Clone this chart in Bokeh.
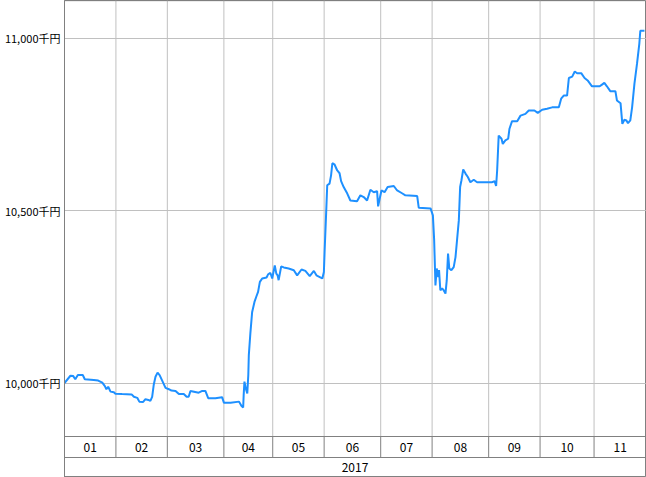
from bokeh.plotting import figure
from bokeh.models import Range1d, FixedTicker, BoxAnnotation
from bokeh.embed import file_html
from bokeh.resources import INLINE
from bokeh.core.properties import value

# ---------------- data ----------------
YEAR_LABEL = "2017"
MONTH_LABELS = ["01", "02", "03", "04", "05", "06", "07", "08", "09", "10", "11"]
MONTH_TRADING_DAYS = [20, 20, 22, 19, 20, 22, 20, 22, 20, 21, 20]
Y_TICKS = [10000, 10500, 11000]

# trading-day position (from start of the year) and value in thousand yen
DAY = [0.0, 2.3, 3.4, 4.2, 5.2, 7.1, 7.9, 11.4, 13.1, 14.7, 15.7, 16.3, 17.0, 17.9,
       19.2, 19.8, 22.4, 26.1, 27.0, 28.3, 29.1, 30.6, 31.5, 32.6, 33.4, 34.1, 34.7,
       35.4, 36.2, 37.0, 38.0, 39.3, 40.6, 41.6, 43.2, 44.5, 46.4, 47.5, 48.3, 49.0,
       52.2, 53.6, 54.8, 55.9, 58.7, 61.3, 62.0, 64.6, 67.9, 68.8, 69.5, 69.7, 70.0,
       70.5, 71.1, 71.5, 71.7, 72.3, 73.0, 73.9, 74.6, 75.3, 76.0, 76.9, 78.6, 79.2,
       80.1, 80.8, 81.8, 82.4, 82.9, 83.3, 84.3, 85.3, 87.2, 89.2, 90.5, 92.2, 93.7,
       95.4, 97.0, 98.0, 99.3, 100.3, 100.9, 101.2, 101.8, 102.2, 103.1, 103.7, 104.2,
       105.0, 106.1, 107.0, 107.6, 108.6, 110.0, 111.2, 113.8, 115.1, 116.4, 117.7,
       119.0, 120.3, 121.6, 122.0, 122.6, 123.3, 124.5, 125.7, 128.1, 129.4, 131.3,
       132.6, 137.2, 137.8, 142.4, 143.3, 143.8, 144.3, 144.8, 145.4, 145.7, 146.2,
       146.9, 147.5, 148.2, 148.7, 149.2, 149.7, 150.5, 151.4, 152.1, 152.7, 153.4,
       153.9, 154.4, 155.1, 156.0, 156.9, 157.9, 159.2, 160.5, 166.4, 167.3, 167.9,
       168.3, 168.9, 170.0, 170.5, 171.5, 172.6, 173.1, 174.1, 176.1, 177.4, 179.3,
       180.6, 182.8, 184.1, 185.8, 187.7, 189.7, 192.3, 193.2, 194.2, 195.5, 196.2,
       197.5, 198.5, 199.4, 201.0, 202.3, 203.5, 205.2, 208.2, 209.1, 210.0, 211.0,
       212.3, 214.3, 214.9, 216.3, 217.0, 217.8, 218.6, 219.2, 220.1, 220.8, 221.7,
       222.7, 223.6, 224.0, 225.6]
NAV = [10000, 10021, 10020, 10011, 10023, 10023, 10011, 10009, 10007, 10001, 9991, 9982,
       9989, 9975, 9973, 9969, 9968, 9967, 9960, 9957, 9946, 9945, 9953, 9951, 9948,
       9960, 9994, 10018, 10030, 10023, 10007, 9986, 9982, 9978, 9977, 9968, 9968, 9960,
       9960, 9977, 9972, 9977, 9977, 9956, 9956, 9959, 9943, 9943, 9946, 9934, 9929,
       9965, 10004, 9985, 9970, 10023, 10081, 10144, 10206, 10235, 10250, 10264, 10293,
       10303, 10306, 10315, 10319, 10303, 10341, 10317, 10312, 10298, 10338, 10335,
       10332, 10327, 10312, 10329, 10325, 10310, 10325, 10312, 10307, 10303, 10322,
       10385, 10496, 10573, 10578, 10602, 10637, 10634, 10616, 10608, 10585, 10568,
       10549, 10529, 10527, 10544, 10539, 10529, 10560, 10553, 10556, 10512, 10534,
       10558, 10553, 10568, 10571, 10558, 10550, 10544, 10542, 10508, 10506, 10486,
       10414, 10283, 10332, 10307, 10327, 10269, 10274, 10269, 10259, 10298, 10375,
       10332, 10327, 10336, 10365, 10414, 10472, 10568, 10587, 10619, 10607, 10597,
       10582, 10589, 10582, 10582, 10585, 10571, 10616, 10717, 10708, 10693, 10703,
       10708, 10737, 10759, 10759, 10775, 10780, 10790, 10790, 10783, 10792, 10795,
       10799, 10799, 10824, 10833, 10833, 10884, 10888, 10903, 10898, 10898, 10884,
       10877, 10860, 10860, 10865, 10870, 10860, 10846, 10846, 10819, 10811, 10751,
       10763, 10761, 10753, 10761, 10799, 10867, 10925, 10983, 11021, 11021]

# ---------------- layout / style ----------------
W, H = 646, 477
LEFT = 64
PLOT_BOTTOM = 436     # px from top where the chart area ends
ROW_BOTTOM = 457      # px from top where the month row ends
V_TOP = 11108.7
V_PER_PX = 1000.0 / 345.0
V_BOT = V_TOP - H * V_PER_PX
X_END = sum(MONTH_TRADING_DAYS) + 0.4

GRID = "#c0c0c0"
BORDER = "#808080"
LINE = "#1e90ff"
FONT = "Noto Sans CJK JP"

p = figure(width=W, height=H, x_range=Range1d(0, X_END), y_range=Range1d(V_BOT, V_TOP),
           output_backend="svg", toolbar_location=None, x_axis_location=None,
           y_axis_location="left", min_border_left=LEFT, min_border_right=0,
           min_border_top=0, min_border_bottom=0)
p.extra_y_ranges = {"tbl": Range1d(H, 0)}
p.background_fill_color = "white"
p.border_fill_color = "white"
p.outline_line_color = BORDER

ax = p.yaxis[0]
ax.ticker = FixedTicker(ticks=Y_TICKS)
ax.major_label_overrides = {t: f"{t:,}千円" for t in Y_TICKS}
ax.major_tick_line_color = None
ax.minor_tick_line_color = None
ax.major_tick_out = 0
ax.major_tick_in = 0
ax.minor_tick_out = 0
ax.minor_tick_in = 0
ax.axis_line_color = BORDER
ax.major_label_text_font = FONT
ax.major_label_text_font_size = "11px"
ax.major_label_text_color = "black"
ax.major_label_standoff = 4

p.xgrid.visible = False
p.ygrid.ticker = FixedTicker(ticks=Y_TICKS)
p.ygrid.grid_line_color = GRID

# month boundaries
bounds = [0]
for d in MONTH_TRADING_DAYS:
    bounds.append(bounds[-1] + d)
inner = bounds[1:-1]
cell_edges = bounds[:-1] + [X_END]
centers = [(a + b) / 2 for a, b in zip(cell_edges[:-1], cell_edges[1:])]

p.segment(x0=inner, x1=inner, y0=[0] * len(inner), y1=[PLOT_BOTTOM] * len(inner),
          y_range_name="tbl", line_color=GRID, line_width=1)
p.segment(x0=inner, x1=inner, y0=[PLOT_BOTTOM] * len(inner), y1=[ROW_BOTTOM] * len(inner),
          y_range_name="tbl", line_color=BORDER, line_width=1)
p.segment(x0=[0, 0], x1=[X_END, X_END], y0=[PLOT_BOTTOM, ROW_BOTTOM], y1=[PLOT_BOTTOM, ROW_BOTTOM],
          y_range_name="tbl", line_color=BORDER, line_width=1)

p.text(x=centers, y=[(PLOT_BOTTOM + ROW_BOTTOM) / 2] * len(centers), text=MONTH_LABELS,
       y_range_name="tbl", text_font=value(FONT), text_font_size="12px",
       text_align="center", text_baseline="middle", text_color="black")
p.text(x=[sum(MONTH_TRADING_DAYS) / 2], y=[(ROW_BOTTOM + H) / 2], text=[YEAR_LABEL],
       y_range_name="tbl", text_font=value(FONT), text_font_size="12px",
       text_align="center", text_baseline="middle", text_color="black")

# the series
p.line(DAY, NAV, line_color=LINE, line_width=2)

# outer frame and left column box
p.add_layout(BoxAnnotation(left=0.5, right=W - 0.5, top=H - 0.5, bottom=0.5,
                           left_units="canvas", right_units="canvas",
                           top_units="canvas", bottom_units="canvas",
                           fill_alpha=0, line_color=BORDER, line_width=1))
p.add_layout(BoxAnnotation(left=0.5, right=LEFT, top=H - PLOT_BOTTOM, bottom=0.5,
                           left_units="canvas", right_units="canvas",
                           top_units="canvas", bottom_units="canvas",
                           fill_alpha=0, line_color=BORDER, line_width=1))

open("out.html", "w").write(file_html(p, INLINE))
